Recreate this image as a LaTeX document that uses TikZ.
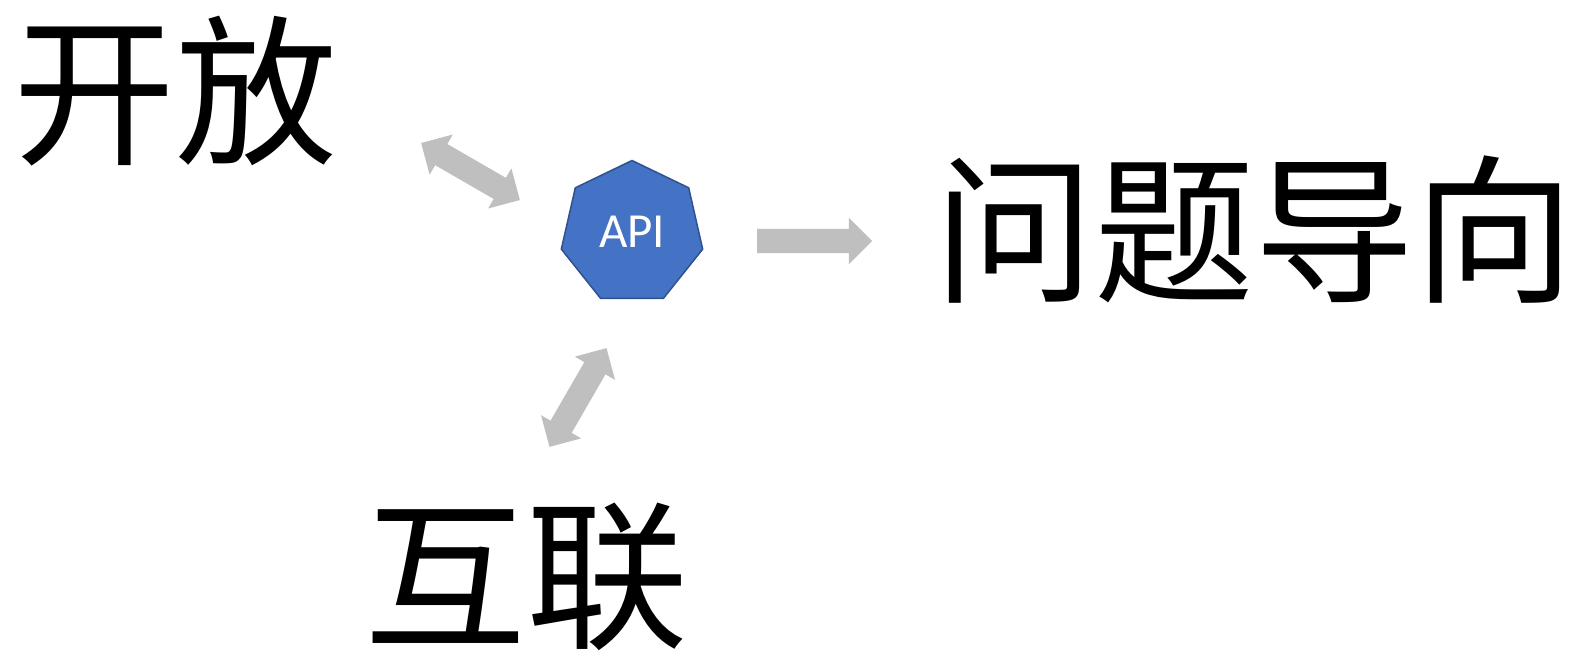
\documentclass[tikz,border=0pt]{standalone}
\usepackage{fontspec}
\newfontfamily\cjk{Noto Sans CJK SC}
\setsansfont{Carlito}
\usetikzlibrary{positioning}
\usetikzlibrary{shapes.geometric}
\usetikzlibrary{shapes.arrows}
\definecolor{apiblue}{HTML}{4472C4}
\definecolor{apiedge}{HTML}{2F528F}
\definecolor{arrowgray}{HTML}{BFBFBF}
\tikzset{
  bigtext/.style={inner sep=0pt, font=\cjk\fontsize{162}{162}\selectfont},
  apibox/.style={regular polygon, regular polygon sides=7, fill=apiblue, draw=apiedge, line width=1.5pt, minimum size=145pt, inner sep=0pt, text=white, font=\sffamily\fontsize{49}{49}\selectfont},
  twoway/.style={double arrow, fill=arrowgray, minimum height=114pt, minimum width=46pt, double arrow head extend=11pt, inner xsep=0pt, inner ysep=12pt},
  oneway/.style={single arrow, fill=arrowgray, minimum height=115pt, minimum width=46pt, single arrow head extend=11pt, inner xsep=0pt, inner ysep=12pt}
}
\begin{document}
\begin{tikzpicture}[x=1pt,y=-1pt]
\useasboundingbox (0,0) rectangle (1574,653);
\node[bigtext] (open) at (175,91) {开放};
\node[apibox] (api) at (632,233) {\raisebox{3pt}{API}};
\node[bigtext, font=\cjk\fontsize{160}{160}\selectfont] (problem) at (1254,230) {问题导向};
\node[bigtext] (link) at (526,577) {互联};
\node[twoway, rotate=-30] (arrowopen) at (470.5,171.5) {};
\node[twoway, rotate=60] (arrowlink) at (578,397.5) {};
\node[oneway] (arrowproblem) at (808.5,241) {};
\end{tikzpicture}
\end{document}
